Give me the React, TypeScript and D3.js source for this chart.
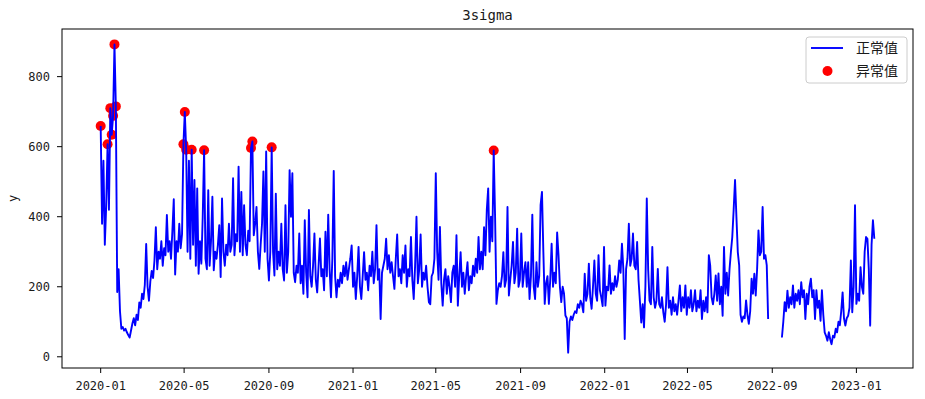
import React from 'react';
import * as d3 from 'd3';

// daily series sampled every 2 days from 2020-01-01, null = missing data
const START = '2020-01-01';
const STEP_DAYS = 2;

const values: (number | null)[] = [
  659, 380, 560, 320, 430, 607, 420, 710, 634, 688,
  892, 715, 185, 250, 130, 80, 85, 75, 80, 70,
  62, 55, 75, 95, 110, 90, 120, 105, 155, 140,
  180, 165, 205, 322, 200, 160, 215, 245, 225, 275,
  370, 250, 300, 280, 330, 260, 310, 290, 405, 300,
  330, 280, 360, 450, 235, 330, 300, 380, 310, 350,
  607, 699, 591, 300, 560, 280, 591, 320, 505, 260,
  481, 237, 330, 266, 400, 590, 280, 250, 476, 260,
  330, 457, 247, 300, 280, 320, 376, 228, 452, 300,
  260, 320, 290, 380, 300, 320, 510, 290, 350, 330,
  543, 300, 471, 290, 433, 320, 290, 360, 330, 596,
  615, 347, 380, 428, 300, 251, 320, 380, 529, 300,
  586, 280, 218, 300, 598, 300, 232, 466, 250, 300,
  260, 380, 250, 218, 433, 240, 300, 533, 400, 524,
  240, 213, 260, 240, 352, 210, 260, 180, 390, 240,
  170, 419, 230, 200, 260, 352, 220, 184, 260, 338,
  230, 250, 190, 357, 230, 406, 250, 170, 280, 531,
  230, 170, 220, 200, 240, 210, 260, 230, 270, 220,
  250, 280, 318, 200, 240, 165, 230, 314, 200, 165,
  230, 299, 220, 240, 190, 260, 230, 300, 210, 250,
  376, 220, 250, 108, 240, 260, 280, 337, 250, 290,
  240, 270, 230, 194, 280, 349, 230, 250, 210, 290,
  240, 318, 200, 250, 230, 342, 220, 165, 260, 400,
  210, 250, 349, 200, 240, 220, 260, 200, 156, 150,
  230, 240, 280, 524, 300, 220, 371, 210, 146, 220,
  250, 180, 230, 200, 156, 240, 260, 200, 347, 146,
  230, 299, 200, 240, 180, 230, 270, 190, 230, 210,
  260, 230, 280, 240, 342, 250, 300, 250, 370, 290,
  420, 481, 300, 400, 330, 589, 400, 151, 190, 210,
  200, 230, 299, 200, 220, 428, 175, 220, 260, 328,
  210, 240, 366, 200, 220, 352, 200, 240, 270, 200,
  270, 165, 230, 406, 200, 165, 270, 200, 230, 433,
  471, 300, 151, 210, 230, 151, 220, 323, 200, 240,
  210, 355, 290, 200, 156, 200, 180, 118, 110, 12,
  100, 115, 105, 120, 130, 125, 150, 140, 160, 150,
  127, 237, 160, 180, 266, 170, 137, 200, 275, 180,
  160, 290, 190, 170, 145, 314, 146, 200, 190, 261,
  180, 210, 190, 230, 200, 220, 275, 240, 323, 250,
  51, 250, 280, 380, 260, 280, 352, 260, 250, 328,
  220, 160, 98, 150, 84, 200, 452, 250, 160, 150,
  314, 170, 140, 160, 251, 150, 140, 170, 127, 100,
  150, 256, 140, 160, 120, 170, 130, 150, 120, 160,
  204, 130, 170, 140, 204, 120, 170, 140, 190, 130,
  150, 190, 130, 160, 140, 190, 108, 160, 130, 170,
  127, 290, 260, 170, 150, 180, 232, 160, 238, 150,
  200, 117, 314, 180, 240, 175, 250, 299, 342, 420,
  505, 400, 299, 261, 120, 100, 115, 110, 161, 120,
  94, 130, 223, 180, 237, 175, 250, 361, 290, 300,
  428, 280, 290, 261, 108, null, null, null, null, null,
  null, null, null, null, 55, 100, 156, 130, 189, 140,
  170, 150, 204, 140, 180, 160, 190, 150, 213, 170,
  190, 108, 180, 150, 200, 223, 170, 190, 108, 190,
  140, 160, 103, 190, 120, 70, 60, 46, 70, 50,
  36, 60, 55, 80, 70, 100, 90, 130, 184, 110,
  89, 110, 117, 140, 275, 127, 200, 433, 151, 180,
  160, 256, 200, 180, 300, 342, 337, 250, 89, 320,
  390, 337,
];

const anomalyDates = [
  '2020-01-01', '2020-01-11', '2020-01-15', '2020-01-17', '2020-01-19',
  '2020-01-21', '2020-01-23', '2020-04-30', '2020-05-02', '2020-05-04',
  '2020-05-12', '2020-05-30', '2020-08-06', '2020-08-08', '2020-09-05',
  '2021-07-24',
];
const anomalyValues = [
  659, 607, 710, 634, 688,
  892, 715, 607, 699, 591,
  591, 590, 596, 615, 598,
  589,
];

const yTicks = [0, 200, 400, 600, 800];

const W = 925;
const H = 399;
const LEFT = 62;
const RIGHT = 913;
const TOP = 29;
const BOTTOM = 368;
const LATIN = '"DejaVu Sans Mono", monospace';
const CJK = '"Noto Sans CJK SC", sans-serif';
const TEXT = '#1a1a1a';

interface Point {
  date: Date;
  value: number | null;
}

export default function App() {
  const parse = d3.utcParse('%Y-%m-%d');
  const start = parse(START) as Date;
  const points: Point[] = values.map((v, i) => ({
    date: d3.utcDay.offset(start, i * STEP_DAYS),
    value: v,
  }));
  const anomalies = anomalyDates.map((s, i) => ({
    date: parse(s) as Date,
    value: anomalyValues[i],
  }));

  const [t0, t1] = d3.extent(points, (d) => d.date) as [Date, Date];
  const tPad = (t1.getTime() - t0.getTime()) * 0.05;
  const x = d3
    .scaleUtc()
    .domain([new Date(t0.getTime() - tPad), new Date(t1.getTime() + tPad)])
    .range([LEFT, RIGHT]);

  const vals = points.filter((d) => d.value != null).map((d) => d.value as number);
  const vMin = d3.min(vals) as number;
  const vMax = d3.max(vals) as number;
  const vPad = (vMax - vMin) * 0.05;
  const y = d3.scaleLinear().domain([vMin - vPad, vMax + vPad]).range([BOTTOM, TOP]);

  const line = d3
    .line<Point>()
    .defined((d) => d.value != null)
    .x((d) => x(d.date))
    .y((d) => y(d.value as number));

  const xTicks = x.ticks(d3.utcMonth.every(4) as d3.TimeInterval);
  const fmt = d3.utcFormat('%Y-%m');

  return (
    <svg
      width={W}
      height={H}
      style={{ position: 'absolute', left: 0, top: 0, background: '#fff' }}
    >
      <text
        x={(LEFT + RIGHT) / 2}
        y={19.5}
        textAnchor="middle"
        fontFamily={LATIN}
        fontSize={14}
        fill={TEXT}
      >
        3sigma
      </text>

      {/* anomalies under the line, like matplotlib's default zorder */}
      {anomalies.map((d, i) => (
        <circle key={i} cx={x(d.date)} cy={y(d.value)} r={5} fill="#ff0000" />
      ))}
      <path
        d={line(points) ?? ''}
        fill="none"
        stroke="#0000ff"
        strokeWidth={1.9}
        strokeLinejoin="round"
      />

      <rect x={LEFT} y={TOP} width={RIGHT - LEFT} height={BOTTOM - TOP} fill="none" stroke="#000" strokeWidth={1} />

      {yTicks.map((t) => (
        <g key={t} transform={`translate(0,${y(t)})`}>
          <line x1={LEFT - 5} x2={LEFT} stroke="#000" strokeWidth={1} />
          <text x={LEFT - 12} dy="0.36em" textAnchor="end" fontFamily={LATIN} fontSize={12} fill={TEXT}>
            {t}
          </text>
        </g>
      ))}
      <text
        transform={`translate(17,${(TOP + BOTTOM) / 2}) rotate(-90)`}
        textAnchor="middle"
        fontFamily={LATIN}
        fontSize={12}
        fill={TEXT}
      >
        y
      </text>

      {xTicks.map((t) => (
        <g key={t.getTime()} transform={`translate(${x(t)},0)`}>
          <line y1={BOTTOM} y2={BOTTOM + 5} stroke="#000" strokeWidth={1} />
          <text y={BOTTOM + 22} textAnchor="middle" fontFamily={LATIN} fontSize={12} fill={TEXT}>
            {fmt(t)}
          </text>
        </g>
      ))}

      <g transform="translate(806,37)">
        <rect width={101} height={46} rx={3} fill="#fff" fillOpacity={0.8} stroke="#cccccc" strokeWidth={1} />
        <line x1={5} x2={37} y1={11} y2={11} stroke="#0000ff" strokeWidth={1.9} />
        <text x={50} y={11} dy="0.35em" fontFamily={CJK} fontSize={14} fill={TEXT}>
          正常值
        </text>
        <circle cx={21.5} cy={34} r={5} fill="#ff0000" />
        <text x={50} y={34} dy="0.35em" fontFamily={CJK} fontSize={14} fill={TEXT}>
          异常值
        </text>
      </g>
    </svg>
  );
}
